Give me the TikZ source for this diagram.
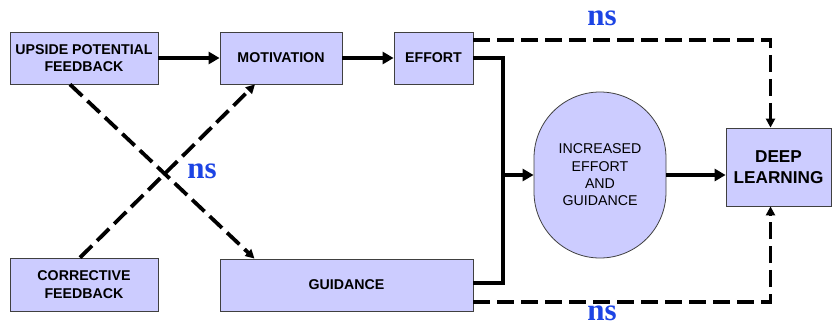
\documentclass[tikz,border=0pt]{standalone}
\usepackage{fontspec}
\setmainfont{Liberation Serif}
\setsansfont{Liberation Sans}
\usepackage{xcolor}
\usetikzlibrary{arrows.meta}
\definecolor{boxfill}{RGB}{204,204,255}
\definecolor{nsblue}{RGB}{28,68,228}

\begin{document}
\begin{tikzpicture}[x=1pt,y=-1pt,
  box/.style={draw=black!75,line width=0.8pt,fill=boxfill,align=center,inner sep=0pt,
    font=\sffamily\bfseries\fontsize{14.2}{17.5}\selectfont},
  solidarr/.style={line width=4.5pt,-{Triangle[length=11pt,width=12pt]}},
  dasharr/.style={line width=3.8pt,dash pattern=on 17pt off 7pt,-{Triangle[length=9pt,width=9pt]}},
  nslabel/.style={text=nsblue,font=\rmfamily\bfseries\fontsize{31}{31}\selectfont}]
\useasboundingbox (0,0) rectangle (832,327);

\node[box,minimum width=148pt,minimum height=52pt] (up) at (84,58) {UPSIDE POTENTIAL\\FEEDBACK};
\node[box,minimum width=122pt,minimum height=52pt] (mot) at (281,58) {MOTIVATION};
\node[box,minimum width=79pt,minimum height=52pt] (eff) at (433.5,58) {EFFORT};
\node[box,minimum width=148pt,minimum height=53pt] (cor) at (84,284.5) {CORRECTIVE\\FEEDBACK};
\node[box,minimum width=253pt,minimum height=52pt] (gui) at (346.5,285) {GUIDANCE};
\node[box,rounded corners=66pt,minimum width=132pt,minimum height=166pt,font=\sffamily\fontsize{14.2}{17.3}\selectfont] (cap) at (600,175) {INCREASED\\EFFORT\\AND\\GUIDANCE};
\node[box,minimum width=105pt,minimum height=78pt,font=\sffamily\bfseries\fontsize{17.2}{20.7}\selectfont] (deep) at (778.5,167) {DEEP\\LEARNING};

\coordinate (jn) at (503,175);

\draw[solidarr] (up) -- (mot);
\draw[solidarr] (mot) -- (eff);
\draw[line width=4.5pt] (eff.east) -| (jn);
\draw[line width=4.5pt] ([yshift=2]gui.east) -| (jn);
\draw[solidarr] ([xshift=-2]jn) -- (cap.west);
\draw[solidarr] (cap.east) -- (deep.west |- cap.east);

\draw[dasharr] ([yshift=18]eff.east) -| ([xshift=-8]deep.north);
\draw[dasharr] ([yshift=-17]gui.east) -| ([xshift=-8]deep.south);
\draw[dasharr] ([xshift=-14]up.south) -- ([xshift=-92]gui.north);
\draw[dasharr] ([xshift=-4]cor.north) -- ([xshift=-26]mot.south);

\node[nslabel] (ns1) at (602,18) {ns};
\node[nslabel] (ns2) at (202,171) {ns};
\node[nslabel] (ns3) at (602,313) {ns};
\end{tikzpicture}
\end{document}
